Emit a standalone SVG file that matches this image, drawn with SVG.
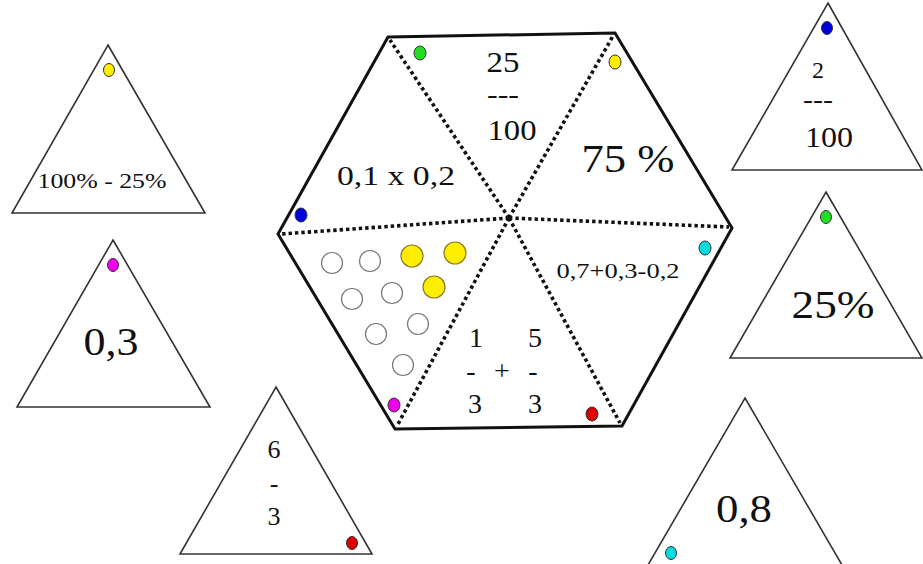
<svg xmlns="http://www.w3.org/2000/svg" width="923" height="564" viewBox="0 0 923 564" font-family="'Liberation Serif', 'Times New Roman', Times, serif">
<style>
.t{font-family:'Liberation Serif','Times New Roman',Times,serif;fill:#111;text-anchor:middle}
.tri{fill:#fff;stroke:#333;stroke-width:1.6;stroke-linejoin:miter}
.hex{fill:#fff;stroke:#111;stroke-width:3;stroke-linejoin:miter}
.dot{stroke:#111;stroke-width:3.6;stroke-dasharray:3.4 3;fill:none}
.pin{stroke:#333;stroke-width:1}
.c{fill:#fff;stroke:#777;stroke-width:1.2}
.y{fill:#ffee00;stroke:#8a7a20;stroke-width:1.2}
</style>
<rect width="923" height="564" fill="#fff"/>

<g id="hexagon">
<polygon class="hex" points="388,37 615,33 732,228 622,426 395,429 278,234"/>
</g>
<g id="connectors">
<line class="dot" x1="509" y1="218" x2="390" y2="40"/>
<line class="dot" x1="509" y1="218" x2="613" y2="36"/>
<line class="dot" x1="509" y1="218" x2="729" y2="227"/>
<line class="dot" x1="509" y1="218" x2="620" y2="423"/>
<line class="dot" x1="509" y1="218" x2="397" y2="426"/>
<line class="dot" x1="509" y1="218" x2="281" y2="234"/>
<circle cx="509" cy="218" r="3" fill="#111"/>
</g>

<g id="seg-top">
<ellipse class="pin" cx="420" cy="53" rx="6" ry="7" fill="#22dd22"/>
<text class="t" x="503" y="72" font-size="30" textLength="33" lengthAdjust="spacingAndGlyphs">25</text>
<text class="t" x="503" y="103" font-size="28" textLength="32" lengthAdjust="spacingAndGlyphs">---</text>
<text class="t" x="512" y="140" font-size="30" textLength="49" lengthAdjust="spacingAndGlyphs">100</text>
</g>
<g id="seg-topright">
<ellipse class="pin" cx="615" cy="62" rx="6" ry="7" fill="#ffee00"/>
<text class="t" x="628" y="172" font-size="40" textLength="93" lengthAdjust="spacingAndGlyphs">75 %</text>
</g>
<g id="seg-topleft">
<ellipse class="pin" cx="301" cy="215" rx="6" ry="7" fill="#0000dd"/>
<text class="t" x="396" y="185" font-size="28" textLength="118" lengthAdjust="spacingAndGlyphs">0,1 x 0,2</text>
</g>
<g id="seg-right">
<ellipse class="pin" cx="705" cy="248" rx="6" ry="7" fill="#00dddd"/>
<text class="t" x="618" y="278" font-size="22" textLength="123" lengthAdjust="spacingAndGlyphs">0,7+0,3-0,2</text>
</g>
<g id="seg-bottom">
<ellipse class="pin" cx="592" cy="414" rx="6" ry="7" fill="#dd0000"/>
<text class="t" x="476" y="347" font-size="28">1</text>
<text class="t" x="535" y="347" font-size="28">5</text>
<text class="t" x="471" y="380" font-size="28">-</text>
<text class="t" x="502" y="380" font-size="28">+</text>
<text class="t" x="533" y="380" font-size="28">-</text>
<text class="t" x="475" y="413" font-size="28">3</text>
<text class="t" x="535" y="413" font-size="28">3</text>
</g>
<g id="seg-bottomleft">
<ellipse class="pin" cx="394" cy="405" rx="6" ry="7" fill="#ee00ee"/>
<circle class="c" cx="332" cy="263" r="10.5"/>
<circle class="c" cx="370" cy="261" r="10.5"/>
<circle class="y" cx="412" cy="256" r="11"/>
<circle class="y" cx="455" cy="253" r="11"/>
<circle class="c" cx="352" cy="299" r="10.5"/>
<circle class="c" cx="392" cy="293" r="10.5"/>
<circle class="y" cx="434" cy="287" r="11"/>
<circle class="c" cx="376" cy="334" r="10.5"/>
<circle class="c" cx="418" cy="324" r="10.5"/>
<circle class="c" cx="403" cy="365" r="10.5"/>
</g>

<g id="tri-100-25">
<polygon class="tri" points="108,45 205,213 12,213"/>
<ellipse class="pin" cx="109" cy="70" rx="5.5" ry="6.5" fill="#ffee00"/>
<text class="t" x="102" y="188" font-size="21" textLength="129" lengthAdjust="spacingAndGlyphs">100% - 25%</text>
</g>
<g id="tri-03">
<polygon class="tri" points="113,240 210,407 17,407"/>
<ellipse class="pin" cx="113" cy="265" rx="5.5" ry="6.5" fill="#ee00ee"/>
<text class="t" x="111" y="355" font-size="40" textLength="55" lengthAdjust="spacingAndGlyphs">0,3</text>
</g>
<g id="tri-6-3">
<polygon class="tri" points="276,387 372,554 180,554"/>
<ellipse class="pin" cx="352" cy="543" rx="5.5" ry="6.5" fill="#dd0000"/>
<text class="t" x="274" y="458" font-size="26">6</text>
<text class="t" x="274" y="492" font-size="26">-</text>
<text class="t" x="274" y="525" font-size="26">3</text>
</g>
<g id="tri-2-100">
<polygon class="tri" points="828,3 922,170 732,170"/>
<ellipse class="pin" cx="827" cy="28" rx="5.5" ry="6.5" fill="#0000dd"/>
<text class="t" x="818" y="78" font-size="24">2</text>
<text class="t" x="818" y="108" font-size="26" textLength="30" lengthAdjust="spacingAndGlyphs">---</text>
<text class="t" x="829" y="147" font-size="29" textLength="48" lengthAdjust="spacingAndGlyphs">100</text>
</g>
<g id="tri-25">
<polygon class="tri" points="826,192 922,358 730,358"/>
<ellipse class="pin" cx="826" cy="217" rx="5.5" ry="6.5" fill="#22dd22"/>
<text class="t" x="833" y="318" font-size="40" textLength="83" lengthAdjust="spacingAndGlyphs">25%</text>
</g>
<g id="tri-08">
<polygon class="tri" points="745,398 842,565 648,565"/>
<ellipse class="pin" cx="671" cy="553" rx="5.5" ry="6.5" fill="#00dddd"/>
<text class="t" x="744" y="522" font-size="40" textLength="56" lengthAdjust="spacingAndGlyphs">0,8</text>
</g>
</svg>
